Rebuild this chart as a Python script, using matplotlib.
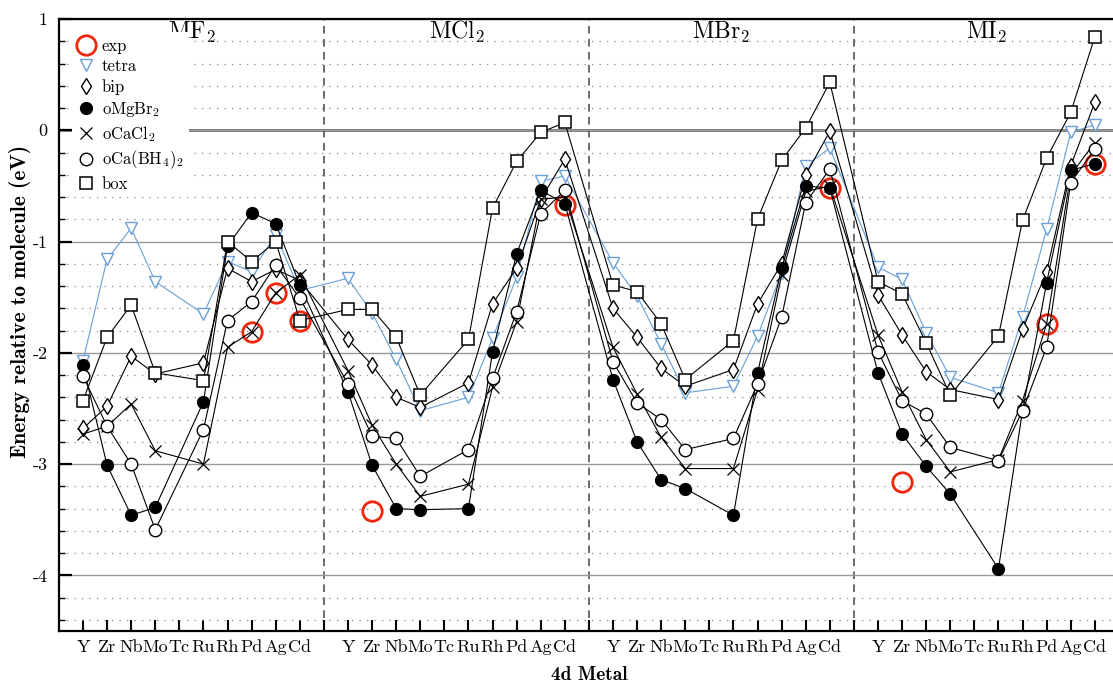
import numpy as np
import matplotlib
matplotlib.use("Agg")
import matplotlib.pyplot as plt
from matplotlib.lines import Line2D
from matplotlib.ticker import MultipleLocator

plt.rcParams.update({
    "font.family": "serif",
    "font.serif": ["cmr10"],
    "mathtext.fontset": "cm",
    "axes.unicode_minus": False,
    "axes.formatter.use_mathtext": True,
})

# ---- data: one row per halide, one column per 4d metal (no Tc results) ----
metals = ["Y", "Zr", "Nb", "Mo", "Tc", "Ru", "Rh", "Pd", "Ag", "Cd"]
halides = ["MF$_2$", "MCl$_2$", "MBr$_2$", "MI$_2$"]
nan = np.nan

exp = [
    [nan, nan, nan, nan, nan, nan, nan, -1.81, -1.46, -1.71],
    [nan, -3.42, nan, nan, nan, nan, nan, nan, nan, -0.67],
    [nan, nan, nan, nan, nan, nan, nan, nan, nan, -0.52],
    [nan, -3.16, nan, nan, nan, nan, nan, -1.74, nan, -0.30],
]
tetra = [
    [-2.07, -1.16, -0.88, -1.36, nan, -1.65, -1.18, -1.27, -0.94, -1.44],
    [-1.33, -1.64, -2.06, -2.52, nan, -2.40, -1.87, -1.32, -0.46, -0.41],
    [-1.19, -1.49, -1.92, -2.36, nan, -2.30, -1.85, -1.28, -0.32, -0.16],
    [-1.23, -1.34, -1.82, -2.22, nan, -2.36, -1.68, -0.89, -0.02, 0.05],
]
bip = [
    [-2.68, -2.48, -2.03, -2.19, nan, -2.09, -1.24, -1.36, -1.25, -1.35],
    [-1.88, -2.11, -2.40, -2.49, nan, -2.27, -1.56, -1.24, -0.62, -0.26],
    [-1.60, -1.86, -2.14, -2.30, nan, -2.15, -1.56, -1.20, -0.40, -0.01],
    [-1.48, -1.84, -2.17, -2.33, nan, -2.42, -1.79, -1.27, -0.32, 0.25],
]
omgbr2 = [
    [-2.11, -3.01, -3.46, -3.39, nan, -2.44, -1.04, -0.74, -0.84, -1.39],
    [-2.35, -3.01, -3.40, -3.41, nan, -3.40, -1.99, -1.11, -0.54, -0.66],
    [-2.24, -2.80, -3.14, -3.22, nan, -3.46, -2.18, -1.24, -0.50, -0.52],
    [-2.18, -2.73, -3.02, -3.27, nan, -3.94, -2.52, -1.37, -0.36, -0.30],
]
ocacl2 = [
    [-2.73, -2.66, -2.46, -2.88, nan, -3.00, -1.95, -1.81, -1.46, -1.30],
    [-2.16, -2.65, -3.00, -3.29, nan, -3.18, -2.31, -1.72, -0.62, -0.60],
    [-1.95, -2.37, -2.76, -3.04, nan, -3.04, -2.33, -1.30, -0.55, -0.50],
    [-1.84, -2.35, -2.78, -3.07, nan, -2.96, -2.43, -1.74, -0.40, -0.11],
]
ocabh4 = [
    [-2.21, -2.66, -3.00, -3.59, nan, -2.69, -1.71, -1.54, -1.21, -1.51],
    [-2.28, -2.75, -2.77, -3.11, nan, -2.87, -2.23, -1.63, -0.75, -0.54],
    [-2.08, -2.45, -2.60, -2.87, nan, -2.77, -2.28, -1.68, -0.65, -0.35],
    [-1.99, -2.43, -2.55, -2.85, nan, -2.97, -2.52, -1.95, -0.47, -0.17],
]
box = [
    [-2.43, -1.86, -1.57, -2.18, nan, -2.25, -1.00, -1.18, -1.00, -1.71],
    [-1.61, -1.61, -1.86, -2.38, nan, -1.88, -0.70, -0.28, -0.02, 0.07],
    [-1.39, -1.45, -1.74, -2.24, nan, -1.89, -0.80, -0.27, 0.02, 0.43],
    [-1.36, -1.47, -1.91, -2.38, nan, -1.85, -0.81, -0.25, 0.16, 0.84],
]

# ---- x positions: four blocks of ten metals with one empty slot between ----
n_m = len(metals)
gap = n_m + 1
xpos = np.array([g * gap + i for g in range(len(halides)) for i in range(n_m)])

BLUE = "#6b9fd6"
RED = "#f2260c"

styles = [
    ("exp", exp, dict(marker="o", ms=14, mfc="none", mec=RED, mew=2.0, ls="none")),
    ("tetra", tetra, dict(marker="v", ms=9, mfc="white", mec=BLUE, mew=1.0, color=BLUE)),
    ("bip", bip, dict(marker="d", ms=7.8, mfc="white", mec="black", mew=1.0, color="black")),
    ("oMgBr$_2$", omgbr2, dict(marker="o", ms=8.5, mfc="black", mec="black", color="black")),
    ("oCaCl$_2$", ocacl2, dict(marker="x", ms=8.5, mec="black", mew=0.9, color="black")),
    ("oCa(BH$_4$)$_2$", ocabh4, dict(marker="o", ms=9, mfc="white", mec="black", mew=1.0, color="black")),
    ("box", box, dict(marker="s", ms=8.5, mfc="white", mec="black", mew=1.1, color="black")),
]

fig = plt.figure(figsize=(11.13, 6.83), dpi=100)
ax = fig.add_axes([58.9 / 1113, 1 - 631 / 683, 1060 / 1113, 612 / 683])

# horizontal guides
ax.yaxis.set_major_locator(MultipleLocator(1))
ax.yaxis.set_minor_locator(MultipleLocator(0.2))
ax.grid(axis="y", which="minor", color="#888888", lw=0.9, ls=(0, (1, 5)), zorder=0)
ax.grid(axis="y", which="major", color="#999999", lw=1.0, ls="-", zorder=0)
ax.axhline(0, color="#555555", lw=1.8, zorder=0.5)
for g in range(1, len(halides)):
    ax.axvline(g * gap - 1, color="#444444", lw=1.1, ls=(0, (5, 3.5)), zorder=0.5)

handles = []
for zi, (label, data, st) in enumerate(styles):
    y = np.array(data, dtype=float).ravel()
    ok = ~np.isnan(y)
    lw = 0.8 if st.get("ls", "-") != "none" else 0
    ax.plot(xpos[ok], y[ok], lw=lw, zorder=2 + zi, **st)
    hst = {k: v for k, v in st.items() if k not in ("ls", "color")}
    handles.append(Line2D([], [], ls="none", label=label, **hst))

for g, name in enumerate(halides):
    ax.text(g * gap + (n_m - 1) / 2, 0.88, name, ha="center", va="center",
            fontsize=17, zorder=1)

ax.set_xlim(-1, len(halides) * gap - 1)
ax.set_ylim(-4.5, 1)
ax.set_xticks(np.arange(0, len(halides) * gap - 1))
ticklabels = []
for g in range(len(halides)):
    ticklabels += metals + ([""] if g < len(halides) - 1 else [])
ax.set_xticklabels(ticklabels)
ax.set_yticks(np.arange(-4, 2))
ax.set_yticklabels([str(v) for v in range(-4, 2)])

ax.tick_params(axis="x", direction="in", length=8, width=1.5, labelsize=13, pad=6)
ax.tick_params(axis="y", which="major", direction="in", length=9, width=1.6, labelsize=13, pad=8)
ax.tick_params(axis="y", which="minor", direction="in", length=4, width=1.0)
for side in ("left", "bottom", "top", "right"):
    ax.spines[side].set_linewidth(1.6)

ax.set_xlabel("4d Metal", fontfamily="cmb10", fontsize=14, labelpad=8)
ax.set_ylabel("Energy relative to molecule (eV)", fontfamily="cmb10", fontsize=15.5)
ax.yaxis.set_label_coords(-0.026, 0.538)

leg = ax.legend(handles=handles, loc="upper left", bbox_to_anchor=(0.012, 0.978),
                borderaxespad=0, frameon=True, fancybox=False, framealpha=1,
                facecolor="white", edgecolor="none", fontsize=12,
                handlelength=1.0, handletextpad=0.45, labelspacing=0.3, borderpad=0.35)
leg.set_zorder(20)

fig.savefig("out.png", dpi=100)
